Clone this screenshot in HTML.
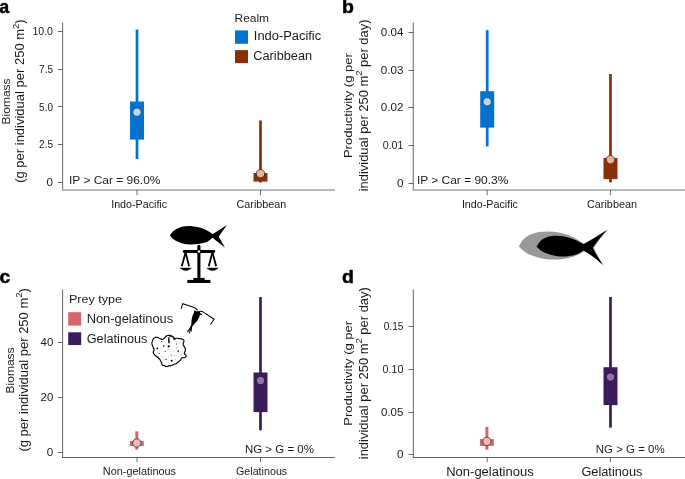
<!DOCTYPE html>
<html><head><meta charset="utf-8"><title>Figure</title>
<style>html,body{margin:0;padding:0;background:#fff}svg{display:block;will-change:transform}</style></head>
<body>
<svg width="685" height="479" viewBox="0 0 685 479" font-family="'Liberation Sans', sans-serif">
<rect width="685" height="479" fill="#fff"/>
<text x="-0.6" y="12.8" font-size="17.8" textLength="9.6" lengthAdjust="spacingAndGlyphs" font-weight="bold" fill="#000" stroke="#000" stroke-width="0.5">a</text>
<text x="341.9" y="12.8" font-size="18.2" textLength="11.9" lengthAdjust="spacingAndGlyphs" font-weight="bold" fill="#000" stroke="#000" stroke-width="0.5">b</text>
<text x="-0.5" y="282.5" font-size="18.2" textLength="10.8" lengthAdjust="spacingAndGlyphs" font-weight="bold" fill="#000" stroke="#000" stroke-width="0.5">c</text>
<text x="341.9" y="282.5" font-size="18.2" textLength="11.9" lengthAdjust="spacingAndGlyphs" font-weight="bold" fill="#000" stroke="#000" stroke-width="0.5">d</text>
<path d="M62.6 22.4V190.75" fill="none" stroke="#727272" stroke-width="1.1"/>
<path d="M62.05 190.0H334.8" fill="none" stroke="#a0a0a0" stroke-width="1.5"/>
<path d="M57.800000000000004 31.5H62.6" stroke="#4a4a4a" stroke-width="0.85"/>
<text x="53" y="35.0" font-size="10" text-anchor="end" textLength="20.6" lengthAdjust="spacingAndGlyphs" fill="#1a1a1a">10.0</text>
<path d="M57.800000000000004 69.5H62.6" stroke="#4a4a4a" stroke-width="0.85"/>
<text x="53" y="72.7" font-size="10" text-anchor="end" fill="#1a1a1a">7.5</text>
<path d="M57.800000000000004 106.5H62.6" stroke="#4a4a4a" stroke-width="0.85"/>
<text x="53" y="110.5" font-size="10" text-anchor="end" fill="#1a1a1a">5.0</text>
<path d="M57.800000000000004 144.5H62.6" stroke="#4a4a4a" stroke-width="0.85"/>
<text x="53" y="148.2" font-size="10" text-anchor="end" fill="#1a1a1a">2.5</text>
<path d="M57.800000000000004 182.5H62.6" stroke="#4a4a4a" stroke-width="0.85"/>
<text x="53" y="185.9" font-size="10" text-anchor="end" textLength="6.5" lengthAdjust="spacingAndGlyphs" fill="#1a1a1a">0</text>
<path d="M137 190.0V195.2" stroke="#4a4a4a" stroke-width="0.8"/>
<text x="111.2" y="207.6" font-size="10.5" textLength="55.9" lengthAdjust="spacingAndGlyphs" fill="#1a1a1a">Indo-Pacific</text>
<path d="M260.5 190.0V195.2" stroke="#4a4a4a" stroke-width="0.8"/>
<text x="236.6" y="207.6" font-size="10.5" textLength="49.6" lengthAdjust="spacingAndGlyphs" fill="#1a1a1a">Caribbean</text>
<rect x="135.65" y="29.6" width="2.7" height="129.40" fill="#0272cf"/>
<rect x="130.00" y="101.5" width="14" height="38.10" fill="#0272cf"/>
<circle cx="137" cy="112.2" r="4.2" fill="#b9d6f0" stroke="#2a3644" stroke-width="0.8"/>
<rect x="259.15" y="120.5" width="2.7" height="62.00" fill="#8a2f08"/>
<rect x="253.50" y="173.0" width="14" height="8.60" fill="#8a2f08"/>
<circle cx="260.5" cy="173.6" r="4.2" fill="#ecb29a" stroke="#3a2a24" stroke-width="0.8"/>
<text x="69.0" y="183.6" font-size="11.8" textLength="91.4" lengthAdjust="spacingAndGlyphs" fill="#1a1a1a">IP &gt; Car = 96.0%</text>
<text transform="translate(10.3 101.4) rotate(-90)" font-size="11.8" text-anchor="middle" textLength="46" lengthAdjust="spacingAndGlyphs" fill="#1a1a1a">Biomass</text>
<text transform="translate(24.2 101.1) rotate(-90)" font-size="12.2" text-anchor="middle" textLength="163.4" lengthAdjust="spacingAndGlyphs" fill="#1a1a1a">(g per individual per 250 m<tspan font-size="8.8" dy="-5.6">2</tspan><tspan dy="5.6">)</tspan></text>
<text x="234.5" y="22" font-size="11.5" textLength="34.6" lengthAdjust="spacingAndGlyphs" fill="#1a1a1a">Realm</text>
<rect x="235" y="30.4" width="13" height="13.4" fill="#0272cf"/>
<rect x="235" y="50.1" width="13" height="13" fill="#8a2f08"/>
<text x="253.8" y="40.4" font-size="12" textLength="67.4" lengthAdjust="spacingAndGlyphs" fill="#1a1a1a">Indo-Pacific</text>
<text x="253.3" y="59.7" font-size="12" textLength="58.8" lengthAdjust="spacingAndGlyphs" fill="#1a1a1a">Caribbean</text>
<path d="M413.3 22.4V190.75" fill="none" stroke="#727272" stroke-width="1.1"/>
<path d="M412.75 190.0H685" fill="none" stroke="#a0a0a0" stroke-width="1.5"/>
<path d="M408.5 32.5H413.3" stroke="#4a4a4a" stroke-width="0.85"/>
<text x="403.4" y="35.8" font-size="10" text-anchor="end" textLength="22.6" lengthAdjust="spacingAndGlyphs" fill="#1a1a1a">0.04</text>
<path d="M408.5 70.5H413.3" stroke="#4a4a4a" stroke-width="0.85"/>
<text x="403.4" y="73.6" font-size="10" text-anchor="end" textLength="22.6" lengthAdjust="spacingAndGlyphs" fill="#1a1a1a">0.03</text>
<path d="M408.5 107.5H413.3" stroke="#4a4a4a" stroke-width="0.85"/>
<text x="403.4" y="111.4" font-size="10" text-anchor="end" textLength="22.6" lengthAdjust="spacingAndGlyphs" fill="#1a1a1a">0.02</text>
<path d="M408.5 145.5H413.3" stroke="#4a4a4a" stroke-width="0.85"/>
<text x="403.4" y="149.2" font-size="10" text-anchor="end" textLength="20.6" lengthAdjust="spacingAndGlyphs" fill="#1a1a1a">0.01</text>
<path d="M408.5 183.5H413.3" stroke="#4a4a4a" stroke-width="0.85"/>
<text x="403.4" y="187.0" font-size="10" text-anchor="end" textLength="6.5" lengthAdjust="spacingAndGlyphs" fill="#1a1a1a">0</text>
<path d="M487.2 190.0V195.2" stroke="#4a4a4a" stroke-width="0.8"/>
<text x="461.9" y="207.6" font-size="10.5" textLength="56.0" lengthAdjust="spacingAndGlyphs" fill="#1a1a1a">Indo-Pacific</text>
<path d="M610.5 190.0V195.2" stroke="#4a4a4a" stroke-width="0.8"/>
<text x="586.9" y="207.6" font-size="10.5" textLength="50.2" lengthAdjust="spacingAndGlyphs" fill="#1a1a1a">Caribbean</text>
<rect x="485.85" y="30.2" width="2.7" height="116.20" fill="#0272cf"/>
<rect x="480.20" y="91.2" width="14" height="36.40" fill="#0272cf"/>
<circle cx="487.2" cy="101.8" r="4.2" fill="#b9d6f0" stroke="#2a3644" stroke-width="0.8"/>
<rect x="609.15" y="74" width="2.7" height="108.40" fill="#8a2f08"/>
<rect x="603.50" y="158" width="14" height="21.10" fill="#8a2f08"/>
<circle cx="610.5" cy="159.7" r="4.2" fill="#ecb29a" stroke="#3a2a24" stroke-width="0.8"/>
<text x="416.9" y="183.6" font-size="11.8" textLength="91.4" lengthAdjust="spacingAndGlyphs" fill="#1a1a1a">IP &gt; Car = 90.3%</text>
<text transform="translate(352.4 105.6) rotate(-90)" font-size="11.6" text-anchor="middle" textLength="105" lengthAdjust="spacingAndGlyphs" fill="#1a1a1a">Productivity (g per</text>
<text transform="translate(367.8 105.4) rotate(-90)" font-size="11.9" text-anchor="middle" textLength="171.7" lengthAdjust="spacingAndGlyphs" fill="#1a1a1a">individual per 250 m<tspan font-size="8.8" dy="-5.6">2</tspan><tspan dy="5.6"> per day)</tspan></text>
<path d="M62.6 289.5V457.98" fill="none" stroke="#666" stroke-width="1.0"/>
<path d="M62.10 457.5H334.8" fill="none" stroke="#585858" stroke-width="0.95"/>
<path d="M57.800000000000004 342.5H62.6" stroke="#4a4a4a" stroke-width="0.85"/>
<text x="53.3" y="346.4" font-size="10" text-anchor="end" textLength="12.7" lengthAdjust="spacingAndGlyphs" fill="#1a1a1a">40</text>
<path d="M57.800000000000004 397.5H62.6" stroke="#4a4a4a" stroke-width="0.85"/>
<text x="53.3" y="400.8" font-size="10" text-anchor="end" textLength="12.7" lengthAdjust="spacingAndGlyphs" fill="#1a1a1a">20</text>
<path d="M57.800000000000004 452.5H62.6" stroke="#4a4a4a" stroke-width="0.85"/>
<text x="53.3" y="455.7" font-size="10" text-anchor="end" textLength="6.5" lengthAdjust="spacingAndGlyphs" fill="#1a1a1a">0</text>
<path d="M137 457.5V461.9" stroke="#4a4a4a" stroke-width="0.8"/>
<text x="102.8" y="474.8" font-size="10.5" textLength="73.2" lengthAdjust="spacingAndGlyphs" fill="#1a1a1a">Non-gelatinous</text>
<path d="M260.5 457.5V461.9" stroke="#4a4a4a" stroke-width="0.8"/>
<text x="236.0" y="474.8" font-size="10.5" textLength="51.2" lengthAdjust="spacingAndGlyphs" fill="#1a1a1a">Gelatinous</text>
<rect x="135.30" y="431.3" width="3.0" height="18.40" fill="#d5676a"/>
<rect x="129.80" y="440.9" width="14" height="5.10" fill="#d5676a"/>
<circle cx="136.8" cy="443.0" r="4.2" fill="#f2b8ba" stroke="#3a2a2a" stroke-width="0.8"/>
<rect x="259.15" y="297.1" width="2.7" height="133.20" fill="#3b1d5d"/>
<rect x="253.50" y="372.5" width="14" height="39.60" fill="#3b1d5d"/>
<circle cx="260.5" cy="380.5" r="4.2" fill="#9172ab" stroke="#1c0f2c" stroke-width="0.8"/>
<text x="244.9" y="453.3" font-size="11.7" textLength="69.1" lengthAdjust="spacingAndGlyphs" fill="#1a1a1a">NG &gt; G = 0%</text>
<text transform="translate(14.2 370.4) rotate(-90)" font-size="11.8" text-anchor="middle" textLength="46" lengthAdjust="spacingAndGlyphs" fill="#1a1a1a">Biomass</text>
<text transform="translate(27.6 369.9) rotate(-90)" font-size="12.2" text-anchor="middle" textLength="163.4" lengthAdjust="spacingAndGlyphs" fill="#1a1a1a">(g per individual per 250 m<tspan font-size="8.8" dy="-5.6">2</tspan><tspan dy="5.6">)</tspan></text>
<text x="68.9" y="302.5" font-size="11.5" textLength="53.2" lengthAdjust="spacingAndGlyphs" fill="#1a1a1a">Prey type</text>
<rect x="68.2" y="312.2" width="13" height="13.4" fill="#d5676a"/>
<rect x="68.2" y="332.3" width="13" height="12.8" fill="#3b1d5d"/>
<text x="86.7" y="322.6" font-size="12" textLength="86.4" lengthAdjust="spacingAndGlyphs" fill="#1a1a1a">Non-gelatinous</text>
<text x="86.7" y="342.5" font-size="12" textLength="60.8" lengthAdjust="spacingAndGlyphs" fill="#1a1a1a">Gelatinous</text>
<path d="M413.3 289.5V457.98" fill="none" stroke="#666" stroke-width="1.0"/>
<path d="M412.80 457.5H685" fill="none" stroke="#585858" stroke-width="0.95"/>
<path d="M408.5 326.5H413.3" stroke="#4a4a4a" stroke-width="0.85"/>
<text x="403.4" y="330.0" font-size="10" text-anchor="end" textLength="19.7" lengthAdjust="spacingAndGlyphs" fill="#1a1a1a">0.15</text>
<path d="M408.5 369.5H413.3" stroke="#4a4a4a" stroke-width="0.85"/>
<text x="403.4" y="373.0" font-size="10" text-anchor="end" textLength="20.8" lengthAdjust="spacingAndGlyphs" fill="#1a1a1a">0.10</text>
<path d="M408.5 412.5H413.3" stroke="#4a4a4a" stroke-width="0.85"/>
<text x="403.4" y="415.8" font-size="10" text-anchor="end" textLength="22.4" lengthAdjust="spacingAndGlyphs" fill="#1a1a1a">0.05</text>
<path d="M408.5 454.5H413.3" stroke="#4a4a4a" stroke-width="0.85"/>
<text x="403.4" y="458.3" font-size="10" text-anchor="end" textLength="6.5" lengthAdjust="spacingAndGlyphs" fill="#1a1a1a">0</text>
<path d="M487.2 457.5V461.9" stroke="#4a4a4a" stroke-width="0.8"/>
<text x="446.2" y="475.7" font-size="12" textLength="87.5" lengthAdjust="spacingAndGlyphs" fill="#1a1a1a">Non-gelatinous</text>
<path d="M610.5 457.5V461.9" stroke="#4a4a4a" stroke-width="0.8"/>
<text x="581.4" y="475.7" font-size="12" textLength="61.0" lengthAdjust="spacingAndGlyphs" fill="#1a1a1a">Gelatinous</text>
<rect x="485.40" y="426.9" width="3.0" height="22.80" fill="#d5676a"/>
<rect x="479.90" y="439.1" width="14" height="6.80" fill="#d5676a"/>
<circle cx="486.9" cy="441.4" r="4.2" fill="#f2b8ba" stroke="#3a2a2a" stroke-width="0.8"/>
<rect x="609.15" y="297" width="2.7" height="130.60" fill="#3b1d5d"/>
<rect x="603.50" y="367.2" width="14" height="37.90" fill="#3b1d5d"/>
<circle cx="610.5" cy="377.1" r="4.2" fill="#9172ab" stroke="#1c0f2c" stroke-width="0.8"/>
<text x="595.8" y="453.3" font-size="11.7" textLength="68.8" lengthAdjust="spacingAndGlyphs" fill="#1a1a1a">NG &gt; G = 0%</text>
<text transform="translate(352.3 373.3) rotate(-90)" font-size="11.6" text-anchor="middle" textLength="105" lengthAdjust="spacingAndGlyphs" fill="#1a1a1a">Productivity (g per</text>
<text transform="translate(367.8 373.2) rotate(-90)" font-size="11.9" text-anchor="middle" textLength="172" lengthAdjust="spacingAndGlyphs" fill="#1a1a1a">individual per 250 m<tspan font-size="8.8" dy="-5.6">2</tspan><tspan dy="5.6"> per day)</tspan></text>
<path d="M170.0 235.5C170.6 234.7 171.9 232.4 173.4 231.1C174.9 229.8 176.8 228.6 179.2 227.7C181.7 226.9 184.8 226.0 188.0 226.0C191.2 225.9 195.1 226.5 198.2 227.3C201.4 228.0 204.6 229.2 207.0 230.4C209.5 231.5 211.9 233.4 212.9 234.0L227.0 224.9 218.7 236.6 224.9 247.5L212.4 237.8C211.6 238.4 209.9 240.6 207.7 241.6C205.6 242.6 202.8 243.3 199.7 243.8C196.7 244.3 192.6 244.5 189.5 244.4C186.3 244.2 183.4 243.8 180.7 242.9C178.0 242.1 175.2 240.5 173.4 239.3C171.6 238.0 170.6 236.1 170.0 235.5Z" fill="#000"/>
<path d="M198.9 246.3V279" stroke="#000" stroke-width="3.1" stroke-linecap="round"/>
<path d="M184.2 251.5H213.8" stroke="#000" stroke-width="2.9" stroke-linecap="round"/>
<circle cx="198.9" cy="251.5" r="2.3" fill="#000"/>
<circle cx="198.9" cy="251.5" r="1.25" fill="#fff"/>
<path d="M181.8 266.2L185.6 252.2L189.1 266.2" fill="none" stroke="#000" stroke-width="1.8" stroke-linejoin="round" stroke-linecap="butt"/>
<path d="M180.1 268.1H191.3Q185.7 273.1 180.1 268.1Z" fill="#000" stroke="#000" stroke-width="0.5" stroke-linejoin="round"/>
<path d="M208.7 266.2L212.5 252.2L216.1 266.2" fill="none" stroke="#000" stroke-width="1.8" stroke-linejoin="round" stroke-linecap="butt"/>
<path d="M206.9 268.1H218.1Q212.5 273.1 206.9 268.1Z" fill="#000" stroke="#000" stroke-width="0.5" stroke-linejoin="round"/>
<rect x="193.4" y="277.9" width="11.2" height="2.4" fill="#000"/>
<rect x="187.4" y="279.9" width="23" height="3.1" fill="#000"/>
<path d="M518.8 246.5C519.6 245.3 521.5 241.1 523.5 239.2C525.5 237.2 528.0 235.8 530.6 234.6C533.2 233.4 536.0 232.6 539.1 232.1C542.1 231.5 545.7 231.3 549.0 231.4C552.3 231.4 555.6 231.7 558.9 232.4C562.2 233.0 565.7 234.0 568.8 235.2C571.9 236.4 574.8 238.0 577.3 239.4C579.8 240.9 582.9 243.1 584.0 243.8L583.96 243.83Q594.58 238.03 607.68 229.81Q599.11 239.16 593.98 247.66Q596.85 255.59 603.71 265.22Q592.17 255.30 583.96 250.91L584.0 250.9C583.2 251.4 581.1 253.1 579.4 254.0C577.7 254.9 576.2 255.7 573.8 256.4C571.3 257.2 567.7 258.2 564.6 258.7C561.4 259.2 558.2 259.6 554.6 259.6C551.1 259.6 546.9 259.3 543.3 258.7C539.8 258.1 536.5 257.0 533.4 255.9C530.3 254.7 527.3 253.5 524.9 251.9C522.5 250.3 519.8 247.4 518.8 246.5Z" fill="#999"/>
<path d="M536.5 246.7C537.2 245.7 538.9 242.4 540.5 240.9C542.1 239.3 543.8 238.3 546.2 237.5C548.5 236.6 551.8 236.0 554.6 235.8C557.5 235.6 560.3 235.9 563.1 236.3C566.0 236.8 569.0 237.7 571.6 238.6C574.2 239.5 576.7 240.8 578.7 241.7C580.8 242.6 583.1 243.7 584.0 244.1L583.96 244.12Q594.58 238.31 606.76 230.10Q599.11 239.16 592.60 247.66Q596.85 255.59 602.79 264.93Q592.17 255.02 583.96 250.63L584.0 250.6C583.2 251.1 581.0 252.6 579.4 253.3C577.8 254.1 576.7 254.5 574.5 255.0C572.2 255.5 569.0 256.3 566.0 256.4C562.9 256.6 559.0 256.3 556.1 255.9C553.1 255.5 550.6 254.8 548.3 254.0C545.9 253.2 543.9 252.4 541.9 251.2C539.9 250.0 537.4 247.4 536.5 246.7Z" fill="#000"/>
<path d="M181.15 308.94L182.74 303.71L194.24 307.52Q196.78 308.71 197.57 310.53" fill="none" stroke="#000" stroke-width="1.05" stroke-linejoin="miter"/>
<path d="M198.60 311.64Q201.38 310.69 203.76 312.43L214.07 319.25L210.50 324.57" fill="none" stroke="#000" stroke-width="1.05" stroke-linejoin="miter"/>
<path d="M194.5 310.5C195.4 310.1 195.1 311.0 196.8 311.3C198.4 311.7 198.4 310.8 199.5 311.6C200.5 312.5 200.0 312.2 199.9 313.9C199.9 315.6 200.1 314.7 199.3 316.7C198.6 318.7 199.1 317.8 197.7 319.9C196.4 321.9 196.7 321.2 195.2 322.9C193.7 324.6 194.3 324.5 193.1 325.1C192.0 325.7 192.3 325.8 191.7 324.6C191.1 323.5 191.4 323.9 191.5 321.8C191.5 319.6 191.5 320.5 191.9 318.2C192.4 316.0 192.2 316.9 192.9 315.0C193.6 313.2 193.4 314.2 193.9 312.7C194.5 311.2 193.5 311.0 194.5 310.5Z" fill="#000"/>
<path d="M199.39 313.23L201.85 314.81" stroke="#000" stroke-width="1.4"/>
<path d="M192.49 324.17L191.23 327.18" stroke="#000" stroke-width="1.7" stroke-linecap="round"/>
<path d="M191.54 326.39L187.58 331.62" stroke="#000" stroke-width="1.05" stroke-linecap="round"/>
<path d="M191.54 326.39L189.24 333.05" stroke="#000" stroke-width="1.05" stroke-linecap="round"/>
<path d="M191.54 326.39L191.15 331.15" stroke="#000" stroke-width="1.05" stroke-linecap="round"/>
<path d="M151.9 343.1C152.1 341.4 151.9 341.9 152.8 340.1C153.7 338.3 153.1 338.6 154.6 337.7C156.0 336.8 155.4 337.2 157.2 337.4C159.0 337.7 158.2 337.9 159.8 338.5C161.4 339.1 160.6 339.3 162.0 339.3C163.5 339.2 162.9 339.3 164.2 338.3C165.5 337.3 164.5 337.3 166.0 336.3C167.4 335.3 166.7 335.6 168.6 335.4C170.5 335.3 169.9 335.3 171.7 336.0C173.4 336.6 172.9 336.4 173.9 337.4C174.8 338.5 173.7 338.9 174.5 339.2C175.3 339.5 174.7 338.5 176.2 338.3C177.8 338.1 177.0 338.3 179.1 338.6C181.2 338.9 181.0 338.3 182.6 339.2C184.2 340.1 183.8 339.6 183.9 341.4C184.1 343.1 182.8 342.4 183.1 344.5C183.3 346.5 184.1 345.5 184.8 347.5C185.6 349.6 185.5 348.7 185.3 350.6C185.2 352.5 184.0 351.5 184.3 353.2C184.6 355.0 186.2 354.4 186.2 355.9C186.3 357.3 185.9 356.9 184.5 357.6C183.0 358.3 183.2 357.0 181.8 357.9C180.5 358.7 181.6 358.9 180.4 360.2C179.2 361.6 179.7 360.8 178.2 362.0C176.8 363.2 177.5 363.0 176.0 363.7C174.6 364.5 175.3 363.6 173.9 364.2C172.4 364.8 173.3 364.9 171.7 365.5C170.1 366.1 170.8 365.6 169.0 365.9C167.3 366.3 168.0 366.6 166.4 366.5C164.8 366.3 165.5 366.0 164.2 365.5C162.9 365.0 163.3 365.9 162.5 365.1C161.6 364.2 162.3 364.5 161.6 362.9C160.9 361.3 161.3 361.8 160.3 360.2C159.2 358.6 159.8 359.4 158.5 358.0C157.2 356.7 157.8 357.6 156.3 356.3C154.9 355.0 155.2 355.6 154.1 354.1C153.1 352.6 153.3 353.4 153.3 351.9C153.3 350.4 154.1 351.2 154.1 349.7C154.1 348.3 153.8 349.0 153.3 347.5C152.7 346.1 152.8 346.8 152.4 345.3C151.9 343.9 151.8 344.9 151.9 343.1Z" fill="#fff" stroke="#000" stroke-width="1.15" stroke-linejoin="round"/>
<path d="M169.0 343.3C169.0 342.4 168.5 339.0 168.7 337.9C168.9 336.8 169.4 336.8 170.1 336.7C170.7 336.5 171.9 336.7 172.5 337.0C173.2 337.4 173.8 338.2 173.9 338.8C174.1 339.3 173.5 339.9 173.4 340.2" fill="none" stroke="#000" stroke-width="0.9"/>
<path d="M168.86 338.06L169.03 343.15" stroke="#000" stroke-width="1.0"/>
<circle cx="157.2" cy="348.4" r="0.9" fill="#000"/>
<circle cx="163.8" cy="346.0" r="0.8" fill="#000"/>
<circle cx="168.7" cy="346.3" r="1.1" fill="#000"/>
<circle cx="171.7" cy="360.7" r="1.0" fill="#000"/>
<circle cx="178.2" cy="351.1" r="0.8" fill="#000"/>
<circle cx="176.5" cy="344.0" r="0.55" fill="#000"/>
<circle cx="171.2" cy="355.0" r="0.55" fill="#000"/>
<circle cx="166.0" cy="359.4" r="0.6" fill="#000"/>
<circle cx="159.4" cy="353.2" r="0.5" fill="#000"/>
<circle cx="165.1" cy="351.5" r="0.55" fill="#000"/>
<circle cx="161.6" cy="341.4" r="0.5" fill="#000"/>
<circle cx="176.9" cy="348.0" r="0.4" fill="#000"/>
<circle cx="168.2" cy="349.7" r="0.4" fill="#000"/>
<circle cx="174.3" cy="355.4" r="0.35" fill="#000"/>
<circle cx="162.0" cy="356.3" r="0.35" fill="#000"/>
<circle cx="179.6" cy="343.1" r="0.35" fill="#000"/>
<circle cx="156.8" cy="344.0" r="0.35" fill="#000"/>
<circle cx="169.9" cy="341.4" r="0.35" fill="#000"/>
<circle cx="181.3" cy="354.5" r="0.35" fill="#000"/>
<circle cx="175.2" cy="359.8" r="0.35" fill="#000"/>
<circle cx="168.2" cy="362.4" r="0.35" fill="#000"/>
<circle cx="160.3" cy="348.8" r="0.3" fill="#000"/>
<circle cx="173.4" cy="351.0" r="0.3" fill="#000"/>
</svg>
</body></html>
